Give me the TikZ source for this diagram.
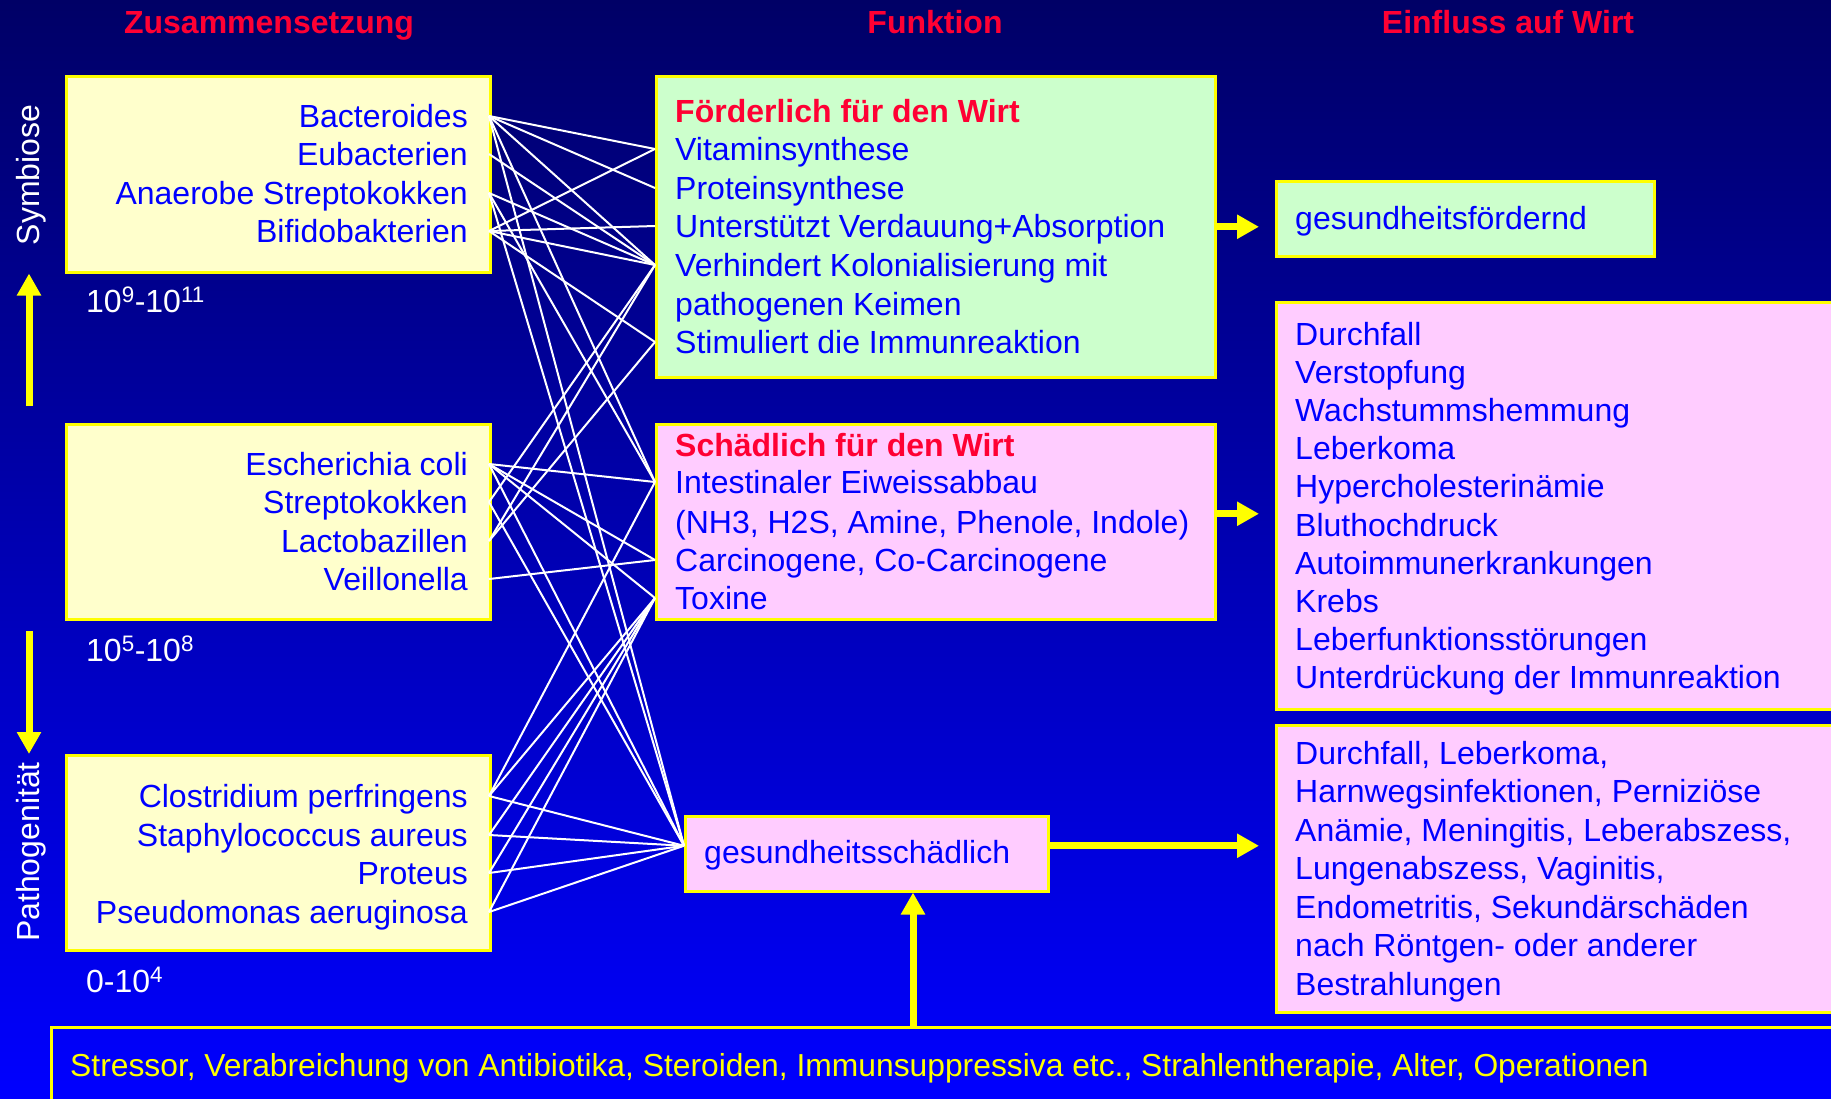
\documentclass[tikz,border=0pt]{standalone}
\usepackage{fontspec}
\setmainfont{Liberation Sans}
\usetikzlibrary{arrows.meta}
\definecolor{navytop}{RGB}{0, 0, 102}
\definecolor{bluebottom}{RGB}{0, 0, 255}
\definecolor{bugcolor}{RGB}{255, 255, 204}
\definecolor{goodcolor}{RGB}{204, 255, 204}
\definecolor{badcolor}{RGB}{255, 204, 255}
\definecolor{textblue}{RGB}{0, 0, 255}
\definecolor{titlered}{RGB}{255, 0, 51}
\definecolor{frameyellow}{RGB}{255, 255, 0}

\begin{document}
\begin{tikzpicture}[
    x=1pt, y=-1pt,
    font=\fontsize{32pt}{38pt}\selectfont,
    box/.style={draw=frameyellow, line width=2.5pt, fill=#1, anchor=north west, inner sep=0pt},
    bug/.style={anchor=east, inner xsep=21pt, inner ysep=0pt, text height=22pt, text depth=0pt, text=textblue},
    func/.style={anchor=west, inner xsep=20pt, inner ysep=0pt, text height=22pt, text depth=0pt, text=textblue},
    headline/.style={func, text=titlered, font=\fontsize{32pt}{38pt}\selectfont\bfseries},
    coltitle/.style={inner sep=0pt, text height=22pt, text depth=0pt, text=titlered, font=\fontsize{32pt}{38pt}\selectfont\bfseries},
    amount/.style={anchor=west, inner sep=0pt, text height=22pt, text depth=0pt, text=white},
    side/.style={inner sep=0pt, text height=22pt, text depth=0pt, text=white, rotate=90},
    link/.style={white, line width=2pt},
    bigarrow/.style={frameyellow, line width=7pt, -{Triangle[width=23pt, length=22pt]}}
]
    \path[use as bounding box, clip] (0,0) rectangle (1831,1098);
    \shade[top color=navytop, bottom color=bluebottom] (0,0) rectangle (1831,1098);

    % Column titles
    \node[coltitle] (t-zus) at (269,22) {Zusammensetzung};
    \node[coltitle] (t-fkt) at (935,22) {Funktion};
    \node[coltitle] (t-ein) at (1508,22) {Einfluss auf Wirt};

    % Boxes
    \node[box=bugcolor, minimum width=424pt, minimum height=196pt] (sym) at (65,75) {};
    \node[box=bugcolor, minimum width=424pt, minimum height=195pt] (mid) at (65,423) {};
    \node[box=bugcolor, minimum width=424pt, minimum height=195pt] (patho) at (65,754) {};
    \node[box=goodcolor, minimum width=559pt, minimum height=301pt] (foerd) at (655,75) {};
    \node[box=badcolor, minimum width=559pt, minimum height=195pt] (schaed) at (655,423) {};
    \node[box=badcolor, minimum width=363pt, minimum height=75pt] (schaedl) at (684,815) {};
    \node[box=goodcolor, minimum width=378pt, minimum height=75pt] (gsf) at (1275,180) {};
    \node[box=badcolor, minimum width=600pt, minimum height=407pt] (effbad) at (1275,301) {};
    \node[box=badcolor, minimum width=600pt, minimum height=287pt] (effpath) at (1275,724) {};
    \node[draw=frameyellow, line width=2.5pt, anchor=north west, inner sep=0pt,
          minimum width=1850pt, minimum height=100pt] (stress) at (50,1026) {};

    % Bacteria
    \node[bug] (bact) at (489,116) {Bacteroides};
    \node[bug] (eubac) at (489,154) {Eubacterien};
    \node[bug] (anaer) at (489,193) {Anaerobe Streptokokken};
    \node[bug] (bifi) at (489,231) {Bifidobakterien};
    \node[bug] (ecoli) at (489,464) {Escherichia coli};
    \node[bug] (strep) at (489,502) {Streptokokken};
    \node[bug] (lacto) at (489,541) {Lactobazillen};
    \node[bug] (veil) at (489,579) {Veillonella};
    \node[bug] (clos) at (489,796) {Clostridium perfringens};
    \node[bug] (staph) at (489,835) {Staphylococcus aureus};
    \node[bug] (prot) at (489,873) {Proteus};
    \node[bug] (pseu) at (489,912) {Pseudomonas aeruginosa};

    \node[amount] (n-sym) at (86,301) {10\textsuperscript{9}-10\textsuperscript{11}};
    \node[amount] (n-mid) at (86,650) {10\textsuperscript{5}-10\textsuperscript{8}};
    \node[amount] (n-pat) at (86,981) {0-10\textsuperscript{4}};

    \node[side] (l-sym) at (28,175) {Symbiose};
    \node[side] (l-pat) at (28,852) {Pathogenität};

    % Functions
    \node[headline] (h-foerd) at (655,111) {Förderlich für den Wirt};
    \node[func] (fvit) at (655,149) {Vitaminsynthese};
    \node[func] (fprot) at (655,188) {Proteinsynthese};
    \node[func] (fverd) at (655,226) {Unterstützt Verdauung+Absorption};
    \node[func] (fkolo) at (655,265) {Verhindert Kolonialisierung mit};
    \node[func] (fkeim) at (655,304) {pathogenen Keimen};
    \node[func] (fimmu) at (655,342) {Stimuliert die Immunreaktion};

    \node[headline] (h-schaed) at (655,445) {Schädlich für den Wirt};
    \node[func] (sint) at (655,482) {Intestinaler Eiweissabbau};
    \node[func] (snh) at (655,522) {(NH3, H2S, Amine, Phenole, Indole)};
    \node[func] (scarc) at (655,560) {Carcinogene, Co-Carcinogene};
    \node[func] (stox) at (655,598) {Toxine};

    \node[func] (gstext) at (684,852) {gesundheitsschädlich};
    \node[func] (gsftext) at (1275,218) {gesundheitsfördernd};

    % Effects
    \foreach \t [count=\i] in {Durchfall, Verstopfung, Wachstummshemmung, Leberkoma,
        Hypercholesterinämie, Bluthochdruck, Autoimmunerkrankungen, Krebs,
        Leberfunktionsstörungen, Unterdrückung der Immunreaktion}
        \node[func] (eb-\i) at (1275,{334+38.2*(\i-1)}) {\t};
    \foreach \t [count=\i] in {{Durchfall, Leberkoma,}, {Harnwegsinfektionen, Perniziöse},
        {Anämie, Meningitis, Leberabszess,}, {Lungenabszess, Vaginitis,},
        {Endometritis, Sekundärschäden}, {nach Röntgen- oder anderer}, {Bestrahlungen}}
        \node[func] (ep-\i) at (1275,{753+38.5*(\i-1)}) {\t};

    \node[anchor=west, inner sep=0pt, text height=22pt, text depth=0pt, text=frameyellow,
          font=\fontsize{31.8pt}{38pt}\selectfont]
        (stresstext) at (70,1065) {Stressor, Verabreichung von Antibiotika, Steroiden, Immunsuppressiva etc., Strahlentherapie, Alter, Operationen};

    % Links
    \coordinate (gsin) at ([yshift=8pt]schaedl.west);
    \foreach \a/\b in {bact/fvit, bact/fprot, bact/fkolo, bact/sint, bact/gsin,
        eubac/fkolo, anaer/fkolo, anaer/sint, anaer/gsin,
        bifi/fvit, bifi/fverd, bifi/fkolo, bifi/fimmu,
        ecoli/sint, ecoli/scarc, ecoli/stox, ecoli/gsin,
        strep/fkolo, strep/gsin, lacto/fkolo, lacto/fimmu, veil/scarc,
        clos/sint, clos/stox, clos/gsin, staph/stox, staph/gsin,
        prot/stox, prot/gsin, pseu/stox, pseu/gsin}
        \draw[link] (\a.east) -- (\b.west);

    % Arrows
    \coordinate (upfrom) at (29,406);
    \coordinate (downfrom) at (29,631);
    \draw[bigarrow] (upfrom) -- (sym.south -| upfrom);
    \draw[bigarrow] (downfrom) -- (patho.north -| downfrom);

    \coordinate (tipx) at (1259,0);
    \coordinate (badout) at ([yshift=8pt]schaed.east);
    \coordinate (gsout) at ([yshift=8pt]schaedl.east);
    \draw[bigarrow] (foerd.east) -- (foerd.east -| tipx);
    \draw[bigarrow] (badout) -- (badout -| tipx);
    \draw[bigarrow] (gsout) -- (gsout -| tipx);

    \coordinate (stressx) at (913,0);
    \draw[bigarrow] (stress.north -| stressx) -- (schaedl.south -| stressx);
\end{tikzpicture}
\end{document}
